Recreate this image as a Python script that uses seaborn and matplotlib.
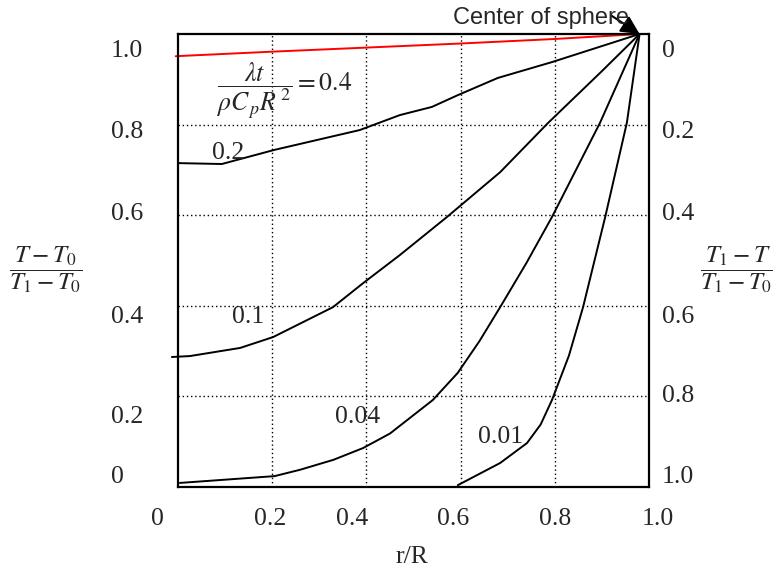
import matplotlib
matplotlib.use("Agg")
import matplotlib.pyplot as plt
import seaborn as sns
import pandas as pd

# ---------------- data ----------------
r_04 = [-0.005, 0.2, 0.4, 0.6, 0.8, 0.98]
t_04 = [0.951, 0.961, 0.970, 0.979, 0.989, 1.0]

r_02 = [0.0, 0.093, 0.204, 0.386, 0.471, 0.539, 0.594, 0.679, 0.794, 0.98]
t_02 = [0.715, 0.713, 0.744, 0.788, 0.821, 0.839, 0.865, 0.903, 0.938, 1.0]

r_01 = [-0.013, 0.025, 0.132, 0.202, 0.329, 0.393, 0.471, 0.571, 0.684, 0.786, 0.896, 0.98]
t_01 = [0.287, 0.289, 0.307, 0.331, 0.397, 0.450, 0.512, 0.596, 0.695, 0.804, 0.914, 1.0]

r_004 = [0.004, 0.205, 0.259, 0.330, 0.393, 0.450, 0.541, 0.594, 0.640, 0.684, 0.740, 0.794, 0.896, 0.98]
t_004 = [0.009, 0.024, 0.038, 0.060, 0.086, 0.118, 0.192, 0.252, 0.322, 0.397, 0.495, 0.596, 0.804, 1.0]

r_001 = [0.594, 0.684, 0.741, 0.770, 0.794, 0.830, 0.860, 0.907, 0.953, 0.98]
t_001 = [0.004, 0.053, 0.097, 0.138, 0.192, 0.290, 0.397, 0.596, 0.804, 1.0]

curve_labels = ["0.2", "0.1", "0.04", "0.01"]
left_tick_labels = ["1.0", "0.8", "0.6", "0.4", "0.2", "0"]
right_tick_labels = ["0", "0.2", "0.4", "0.6", "0.8", "1.0"]
bottom_tick_labels = ["0", "0.2", "0.4", "0.6", "0.8", "1.0"]
grid_values = [0.2, 0.4, 0.6, 0.8]

# ---------------- style ----------------
sns.set_style("white")
plt.rcParams["font.family"] = ["Liberation Serif", "DejaVu Serif"]
plt.rcParams["mathtext.fontset"] = "stix"

W, H = 773, 572
fig = plt.figure(figsize=(W / 100, H / 100), dpi=100)
ax = fig.add_axes([178 / W, 1 - 487 / H, (649 - 178) / W, (487 - 34) / H])
ax.set_xlim(0, 1)
ax.set_ylim(0, 1)

series = [
    (r_04, t_04, "#ff0000"),
    (r_02, t_02, "black"),
    (r_01, t_01, "black"),
    (r_004, t_004, "black"),
    (r_001, t_001, "black"),
]
for rr, tt, col in series:
    df = pd.DataFrame({"r": rr, "t": tt})
    sns.lineplot(data=df, x="r", y="t", ax=ax, color=col, lw=1.4,
                 sort=False, estimator=None)
for ln in ax.lines:
    ln.set_clip_on(False)

ax.set_xticks(grid_values)
ax.set_yticks(grid_values)
ax.tick_params(length=0, labelbottom=False, labelleft=False)
ax.grid(True, color="black", linestyle=(0, (1, 2)), linewidth=1.0)
ax.set_xlabel("")
ax.set_ylabel("")
for sp in ax.spines.values():
    sp.set_visible(True)
    sp.set_color("black")
    sp.set_linewidth(1.6)


def ftext(px, py, s, **kw):
    fig.text(px / W, 1 - py / H, s, **kw)


FS = 18.5
# left tick labels (left aligned), baselines in pixels
left_base = [57, 138, 220, 323, 423, 483]
for lab, yb in zip(left_tick_labels, left_base):
    ftext(111, yb, lab, ha="left", va="baseline", fontsize=FS)
# right tick labels
right_base = [57, 138, 220, 323, 402, 483]
for lab, yb in zip(right_tick_labels, right_base):
    ftext(662, yb, lab, ha="left", va="baseline", fontsize=FS)
# bottom tick labels
bottom_x = [157.5, 270, 352, 453, 555, 658]
for lab, xc in zip(bottom_tick_labels, bottom_x):
    ftext(xc, 525, lab, ha="center", va="baseline", fontsize=FS)

# curve labels
curve_pos = [(228, 159), (248, 323), (358, 423), (501, 443)]
for lab, (xc, yb) in zip(curve_labels, curve_pos):
    ftext(xc, yb, lab, ha="center", va="baseline", fontsize=FS)

# parameter formula
ftext(216, 90, r"$\dfrac{\lambda t}{\rho C_{\,p} R^{\,2}} = 0.4$",
      ha="left", va="center", fontsize=18.5)

# axis labels
ftext(46, 270, r"$\dfrac{T - T_0}{T_1 - T_0}$", ha="center", va="center", fontsize=18)
ftext(737, 270, r"$\dfrac{T_1 - T}{T_1 - T_0}$", ha="center", va="center", fontsize=18)
ftext(412, 563, "r/R", ha="center", va="baseline", fontsize=FS)

# center of sphere annotation
ftext(453, 24, "Center of sphere", ha="left", va="baseline", fontsize=17,
      family=["Liberation Sans", "DejaVu Sans"])
ax.annotate("", xy=(0.98, 1.0), xycoords="data",
            xytext=(612, H - 16), textcoords="figure pixels",
            arrowprops=dict(arrowstyle="-|>", color="black", lw=1.5,
                            mutation_scale=28, shrinkA=0, shrinkB=0))

fig.savefig("out.png", dpi=100)
